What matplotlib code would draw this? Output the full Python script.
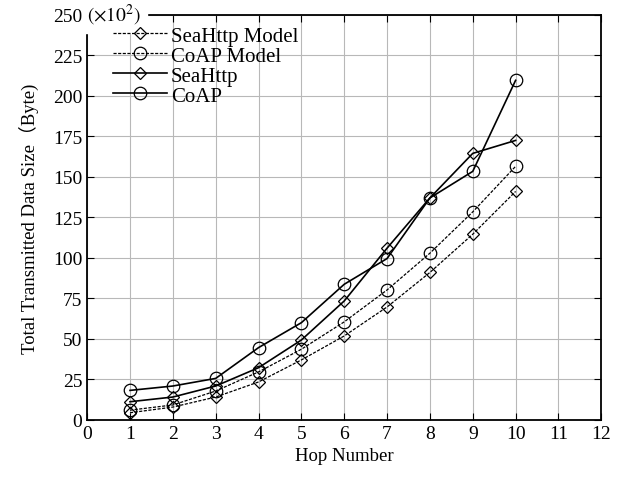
import matplotlib
matplotlib.use('Agg')
import matplotlib.pyplot as plt

plt.rcParams['font.family'] = ['Liberation Serif', 'Noto Sans CJK SC', 'DejaVu Serif']
plt.rcParams['mathtext.fontset'] = 'stix'

hops = [1, 2, 3, 4, 5, 6, 7, 8, 9, 10]
seahttp_model = [4.4, 7.9, 14.1, 23.4, 37.0, 51.8, 69.7, 91.0, 114.6, 141.0]
coap_model = [6.0, 9.2, 17.8, 29.6, 43.6, 60.5, 80.2, 102.9, 128.4, 156.5]
seahttp = [11.2, 14.1, 20.9, 32.2, 49.3, 73.4, 106.0, 137.0, 164.5, 172.5]
coap = [18.2, 20.9, 25.6, 44.6, 60.0, 83.7, 99.6, 137.0, 153.4, 209.6]

fig = plt.figure(figsize=(6.27, 4.81), dpi=100)
ax = fig.add_axes([0.139, 0.125, 0.82, 0.842])

dash = (0, (2.5, 1.2))
ax.plot(hops, seahttp_model, color='black', lw=0.9, ls=dash, marker='D', ms=6.5,
        mfc='none', mec='black', mew=0.9, label='SeaHttp Model')
ax.plot(hops, coap_model, color='black', lw=0.9, ls=dash, marker='o', ms=9,
        mfc='none', mec='black', mew=0.9, label='CoAP Model')
ax.plot(hops, seahttp, color='black', lw=1.2, marker='D', ms=6.5,
        mfc='none', mec='black', mew=0.9, label='SeaHttp')
ax.plot(hops, coap, color='black', lw=1.2, marker='o', ms=9,
        mfc='none', mec='black', mew=0.9, label='CoAP')

ax.set_xlim(0, 12)
ax.set_ylim(0, 250)
ax.set_xticks(range(0, 13))
ax.set_yticks(range(0, 251, 25))
ax.grid(True, color='#b8b8b8', lw=0.8)
ax.tick_params(direction='in', top=True, right=True, labelsize=14, length=5, width=0.8)
for s in ax.spines.values():
    s.set_linewidth(1.3)

ax.set_xlabel('Hop Number', fontsize=13.5)
ax.set_ylabel('Total Transmitted Data Size（Byte)', fontsize=13.5, labelpad=10)
ax.text(0.0, 1.0, r'$(\times10^2)$', transform=ax.transAxes, fontsize=14,
        ha='left', va='center', backgroundcolor='white')

leg = ax.legend(loc='upper left', bbox_to_anchor=(0.025, 1.003), frameon=False,
                fontsize=15, handlelength=2.6, handletextpad=0.2,
                labelspacing=0.02, borderaxespad=0.2)

fig.savefig('out.png', dpi=100)
